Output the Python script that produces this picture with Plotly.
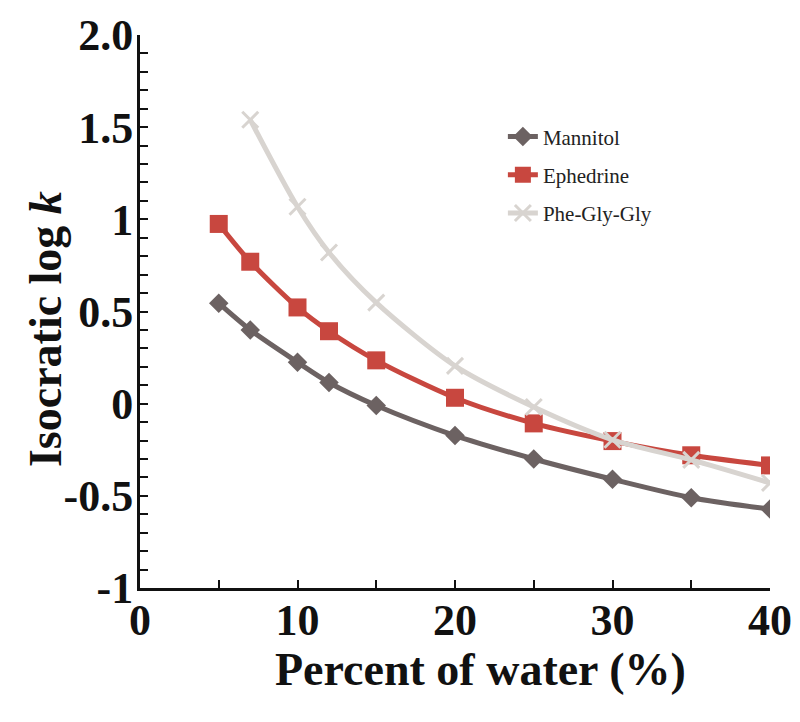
import plotly.graph_objects as go

water = [5, 7, 10, 12, 15, 20, 25, 30, 35, 40]
mannitol = [0.545, 0.40, 0.225, 0.115, -0.01, -0.173, -0.30, -0.41, -0.51, -0.572]
ephedrine = [0.975, 0.77, 0.522, 0.393, 0.235, 0.032, -0.107, -0.203, -0.28, -0.335]
water_pgg = [7, 10, 12, 15, 20, 25, 30, 35, 40]
phe_gly_gly = [1.54, 1.068, 0.82, 0.548, 0.205, -0.018, -0.196, -0.305, -0.43]

y_tickvals = [-1, -0.5, 0, 0.5, 1, 1.5, 2.0]
y_ticktext = ["-1", "-0.5", "0", "0.5", "1", "1.5", "2.0"]
x_tickvals = [0, 10, 20, 30, 40]

FONT = "Liberation Serif"
INK = "#111111"

fig = go.Figure()
fig.add_trace(go.Scatter(
    x=water, y=mannitol, name="Mannitol", mode="lines+markers",
    line=dict(color="#6c6262", width=5, shape="spline", smoothing=0.8),
    marker=dict(symbol="diamond", size=15, color="#6c6262"),
    legendgroup="a"))
fig.add_trace(go.Scatter(
    x=water, y=ephedrine, name="Ephedrine", mode="lines+markers",
    line=dict(color="#c8473f", width=5, shape="spline", smoothing=0.8),
    marker=dict(symbol="square", size=18, color="#c8473f"),
    legendgroup="b"))
fig.add_trace(go.Scatter(
    x=water_pgg, y=phe_gly_gly, name="Phe-Gly-Gly", mode="lines+markers",
    line=dict(color="#d8d4d0", width=5, shape="spline", smoothing=0.8),
    marker=dict(symbol="x-thin", size=16, color="#d8d4d0",
                line=dict(color="#d8d4d0", width=3)),
    legendgroup="c"))

fig.update_layout(
    width=800, height=722,
    margin=dict(l=132, r=38, t=27, b=142),
    paper_bgcolor="white", plot_bgcolor="white",
    font=dict(family=FONT, color=INK),
    showlegend=True,
    legend=dict(x=0.576, y=0.853, xanchor="left", yanchor="top",
                font=dict(family=FONT, size=21, color="#222222"),
                traceorder="grouped", tracegroupgap=8,
                bgcolor="rgba(0,0,0,0)"),
    xaxis=dict(
        range=[0, 40], tickvals=x_tickvals, ticks="inside", ticklen=8,
        tickwidth=2, tickcolor=INK, automargin=False,
        showline=True, linecolor=INK, linewidth=3,
        showgrid=False, zeroline=False, ticklabelstandoff=-9,
        tickfont=dict(family=FONT, size=44, color=INK, weight="bold"),
        minor=dict(dtick=5, ticks="inside", ticklen=8, tickwidth=2, tickcolor=INK),
    ),
    yaxis=dict(
        range=[-1, 2], tickvals=y_tickvals, ticktext=y_ticktext,
        ticks="inside", ticklen=8, tickwidth=2, tickcolor=INK, automargin=False,
        showline=True, linecolor=INK, linewidth=3,
        showgrid=False, zeroline=False, ticklabelstandoff=-5,
        tickfont=dict(family=FONT, size=44, color=INK, weight="bold"),
        minor=dict(dtick=0.1, ticks="inside", ticklen=8, tickwidth=2, tickcolor=INK),
    ),
    annotations=[
        dict(text="<b>Percent of water (%)</b>", xref="paper", yref="paper",
             x=0.541, y=-0.148, xanchor="center", yanchor="middle", showarrow=False,
             font=dict(family=FONT, size=46, color=INK)),
        dict(text="<b>Isocratic log <i>k</i></b>", xref="paper", yref="paper",
             x=-0.151, y=0.468, xanchor="center", yanchor="middle", showarrow=False,
             textangle=-90, font=dict(family=FONT, size=46, color=INK)),
    ],
)

fig.write_html("out.html")
